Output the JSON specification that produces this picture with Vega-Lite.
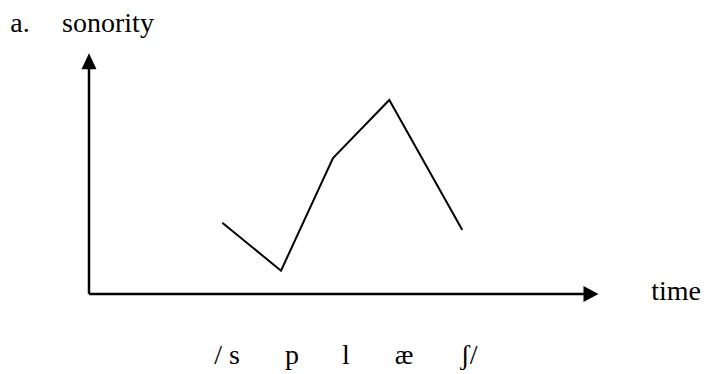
{
  "$schema": "https://vega.github.io/schema/vega-lite/v6.json",
  "width": 707,
  "height": 374,
  "padding": 0,
  "autosize": "none",
  "background": "white",
  "config": {"view": {"stroke": null}},
  "datasets": {
    "curve": [
      {"segment": "s", "t": 2.666, "sonority": 2.852},
      {"segment": "p", "t": 3.84, "sonority": 0.932},
      {"segment": "l", "t": 4.88, "sonority": 5.44},
      {"segment": "æ", "t": 6.006, "sonority": 7.76},
      {"segment": "ʃ", "t": 7.466, "sonority": 2.56}
    ],
    "axes": [
      {"name": "sonority", "t": 0, "sonority": 0, "t2": 0, "sonority2": 9.1},
      {"name": "time", "t": 0, "sonority": 0, "t2": 9.95, "sonority2": 0}
    ],
    "heads": [
      {"dir": "up", "t": 0, "sonority": 9.31},
      {"dir": "right", "t": 10.04, "sonority": 0}
    ],
    "labels": [
      {"text": "a.", "t": -1.38, "sonority": 10.48},
      {"text": "sonority", "t": 0.38, "sonority": 10.48},
      {"text": "time", "t": 11.74, "sonority": -0.24},
      {"text": "/ s", "t": 2.76, "sonority": -2.8},
      {"text": "p", "t": 4.06, "sonority": -2.8},
      {"text": "l", "t": 5.14, "sonority": -2.8},
      {"text": "æ", "t": 6.3, "sonority": -2.8},
      {"text": "ʃ/", "t": 7.6, "sonority": -2.8}
    ]
  },
  "layer": [
    {
      "data": {"name": "axes"},
      "mark": {"type": "rule", "color": "black", "strokeWidth": 2.5},
      "encoding": {
        "x": {"field": "t", "type": "quantitative", "scale": {"domain": [-1.78, 12.36], "nice": false, "zero": false}, "axis": null},
        "y": {"field": "sonority", "type": "quantitative", "scale": {"domain": [-3.2, 11.76], "nice": false, "zero": false}, "axis": null},
        "x2": {"field": "t2"},
        "y2": {"field": "sonority2"}
      }
    },
    {
      "data": {"name": "heads"},
      "mark": {"type": "point", "filled": true, "color": "black", "opacity": 1, "size": 256, "strokeWidth": 0},
      "encoding": {
        "x": {"field": "t", "type": "quantitative", "axis": null},
        "y": {"field": "sonority", "type": "quantitative", "axis": null},
        "shape": {"field": "dir", "type": "nominal", "legend": null, "scale": {"domain": ["up", "right"], "range": ["M0,-1L-0.94,1L0.94,1Z", "M0.94,0L-0.94,-1L-0.94,1Z"]}}
      }
    },
    {
      "data": {"name": "curve"},
      "mark": {"type": "line", "color": "black", "strokeWidth": 2},
      "encoding": {
        "x": {"field": "t", "type": "quantitative", "axis": null},
        "y": {"field": "sonority", "type": "quantitative", "axis": null}
      }
    },
    {
      "data": {"name": "labels"},
      "mark": {"type": "text", "font": "Liberation Serif", "fontSize": 28, "align": "center", "baseline": "alphabetic", "color": "black"},
      "encoding": {
        "x": {"field": "t", "type": "quantitative", "axis": null},
        "y": {"field": "sonority", "type": "quantitative", "axis": null},
        "text": {"field": "text", "type": "nominal"}
      }
    }
  ]
}
